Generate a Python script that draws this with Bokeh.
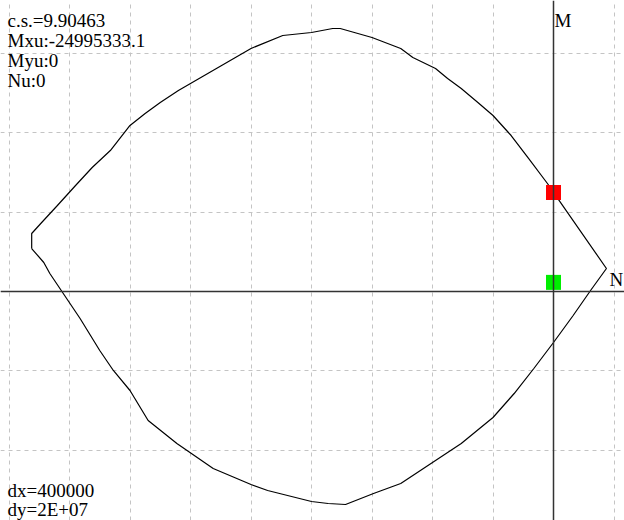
from bokeh.plotting import figure
from bokeh.models import Range1d, SingleIntervalTicker, Span, Label
from bokeh.embed import file_html
from bokeh.resources import INLINE

# Interaction curve (N horizontal, M vertical)
curve_N = [-3.45e6, -3.45e6, -3.39e6, -3.28e6, -3.16e6, -3.05e6, -2.93e6, -2.80e6, -2.70e6,
           -2.60e6, -2.48e6, -2.00e6, -1.79e6, -1.60e6, -1.46e6, -1.41e6, -1.20e6, -1.01e6,
           -0.93e6, -0.78e6, -0.70e6, -0.61e6, -0.50e6, -0.40e6, -0.28e6, -0.17e6, -0.04e6,
           0.0, 0.35e6, 0.245e6, 0.13e6, 0.0, -0.13e6, -0.26e6, -0.40e6, -0.61e6, -0.81e6,
           -1.01e6, -1.19e6, -1.375e6, -1.49e6, -1.60e6, -1.89e6, -2.00e6, -2.25e6, -2.49e6,
           -2.68e6, -2.80e6, -2.91e6, -3.00e6, -3.13e6, -3.25e6, -3.33e6, -3.37e6, -3.45e6]
curve_M = [10.84e6, 14.63e6, 17.15e6, 21.69e6, 26.73e6, 31.27e6, 35.56e6, 41.87e6, 44.89e6,
           47.67e6, 50.69e6, 61.29e6, 64.56e6, 65.32e6, 66.33e6, 66.33e6, 64.06e6, 61.29e6,
           59.02e6, 56.24e6, 53.72e6, 51.20e6, 47.67e6, 44.39e6, 39.34e6, 33.80e6, 27.24e6,
           24.995e6, 5.80e6, 0.25e6, -6.05e6, -12.86e6, -19.42e6, -25.73e6, -31.78e6, -38.34e6, -43.38e6,
           -48.42e6, -50.95e6, -53.72e6, -53.47e6, -52.96e6, -50.19e6, -48.68e6, -44.64e6, -38.34e6,
           -32.53e6, -24.97e6, -19.92e6, -14.88e6, -6.81e6, 0.0, 4.54e6, 7.31e6, 10.84e6]

# Points
ultimate_N = [0.0]
ultimate_M = [24995333.1]
load_N = [0.0]
load_M = [2.3e6]

# Grid steps
dx = 400000
dy = 2e7

# Texts
info_lines = ["c.s.=9.90463", "Mxu:-24995333.1", "Myu:0", "Nu:0"]
step_lines = ["dx=400000", "dy=2E+07"]

W, H = 624, 520
p = figure(width=W, height=H, output_backend="svg", toolbar_location=None,
           x_range=Range1d(-3656200, 469420), y_range=Range1d(-57755400, 73392200),
           min_border=0, min_border_left=0, min_border_right=0, min_border_top=0, min_border_bottom=0)
p.outline_line_color = None
p.background_fill_color = "white"
p.border_fill_color = "white"
p.xaxis.visible = False
p.yaxis.visible = False
p.xgrid.ticker = SingleIntervalTicker(interval=dx)
p.ygrid.ticker = SingleIntervalTicker(interval=dy)
for g in (p.xgrid, p.ygrid):
    g.grid_line_color = "#c4c4c4"
    g.grid_line_dash = "4 4"
    g.grid_line_width = 1

p.add_layout(Span(location=0, dimension="width", line_color="#333333", line_width=1.5))
p.add_layout(Span(location=0, dimension="height", line_color="#333333", line_width=1.5))

p.line(curve_N, curve_M, line_color="black", line_width=1.2)
p.scatter(ultimate_N, ultimate_M, marker="square", size=15, fill_color="#ff0000", line_color=None)
p.scatter(load_N, load_M, marker="square", size=15, fill_color="#00ee00", line_color=None)

font = "Times New Roman"
for i, t in enumerate(info_lines):
    p.add_layout(Label(x=7, y=H - 20 - 20 * i, x_units="screen", y_units="screen", text=t,
                       text_font=font, text_font_size="19px", text_color="black",
                       text_baseline="alphabetic"))
for i, t in enumerate(step_lines):
    p.add_layout(Label(x=7, y=H - 490 - 19 * i, x_units="screen", y_units="screen", text=t,
                       text_font=font, text_font_size="19px", text_color="black",
                       text_baseline="alphabetic"))
p.add_layout(Label(x=0, y=H - 20, x_units="data", y_units="screen", x_offset=1, text="M",
                   text_font=font, text_font_size="19px", text_color="black",
                   text_baseline="alphabetic"))
p.add_layout(Label(x=W - 15, y=0, x_units="screen", y_units="data", y_offset=12, text="N",
                   text_font=font, text_font_size="19px", text_color="black",
                   text_baseline="alphabetic"))

open("out.html", "w").write(file_html(p, INLINE))
